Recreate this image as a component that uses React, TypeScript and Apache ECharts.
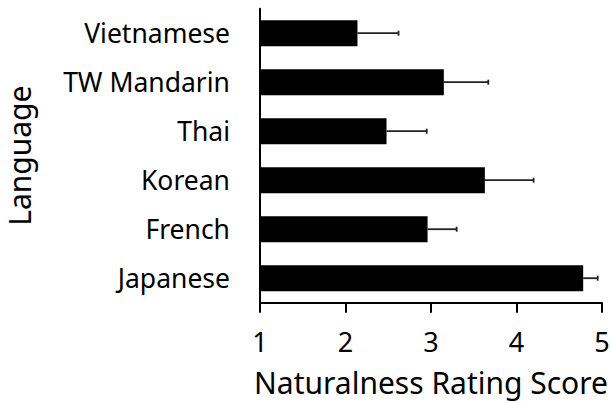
import React, { useEffect, useRef } from "react";
import * as echarts from "echarts";

const categories = ["Japanese", "French", "Korean", "Thai", "TW Mandarin", "Vietnamese"];
const means = [4.78, 2.96, 3.63, 2.48, 3.15, 2.14];
const errors = [0.17, 0.34, 0.57, 0.47, 0.52, 0.48];
const xTicks = [1, 2, 3, 4, 5];

export default function App() {
  const ref = useRef<HTMLDivElement>(null);
  useEffect(() => {
    if (!ref.current) return;
    const chart = echarts.init(ref.current, null, { renderer: "svg" });
    const font = "'Noto Sans', sans-serif";
    chart.setOption({
      animation: false,
      backgroundColor: "#ffffff",
      grid: {
        left: 260,
        right: 9,
        top: 8.7,
        bottom: 100.3,
        containLabel: false,
        outerBoundsMode: "none",
      },
      xAxis: {
        type: "value",
        min: xTicks[0],
        max: xTicks[xTicks.length - 1],
        interval: 1,
        splitLine: { show: false },
        axisLine: { show: true, lineStyle: { color: "#000", width: 2 } },
        axisTick: { show: true, length: 10, lineStyle: { color: "#000", width: 2 } },
        axisLabel: { color: "#000", fontSize: 27, fontFamily: font, margin: 25 },
        name: "Naturalness Rating Score",
        nameLocation: "middle",
        nameGap: 65,
        nameTextStyle: { color: "#000", fontSize: 30, lineHeight: 30, fontFamily: font },
      },
      yAxis: {
        type: "category",
        data: categories,
        axisLine: { show: true, lineStyle: { color: "#000", width: 2 } },
        axisTick: { show: false },
        axisLabel: { color: "#000", fontSize: 26.5, fontFamily: font, margin: 30 },
        name: "Language",
        nameLocation: "middle",
        nameGap: 226,
        nameTextStyle: { color: "#000", fontSize: 30, fontFamily: font },
      },
      series: [
        {
          type: "bar",
          data: means,
          barCategoryGap: "47%",
          itemStyle: { color: "#000" },
          z: 2,
        },
        {
          type: "custom",
          data: means.map((m, i) => [i, m, m + errors[i]]),
          encode: { x: [1, 2], y: 0 },
          z: 3,
          renderItem: (params: any, api: any) => {
            const idx = api.value(0);
            const start = api.coord([api.value(1), idx]);
            const end = api.coord([api.value(2), idx]);
            const capH = 2.5;
            const style = { stroke: "#222", lineWidth: 1.8 };
            return {
              type: "group",
              children: [
                { type: "line", shape: { x1: start[0], y1: start[1], x2: end[0], y2: end[1] }, style },
                { type: "line", shape: { x1: end[0], y1: end[1] - capH, x2: end[0], y2: end[1] + capH }, style },
              ],
            };
          },
        },
      ],
    });
    return () => chart.dispose();
  }, []);
  return <div ref={ref} style={{ width: 611, height: 403, position: "absolute", left: 0, top: 0 }} />;
}
